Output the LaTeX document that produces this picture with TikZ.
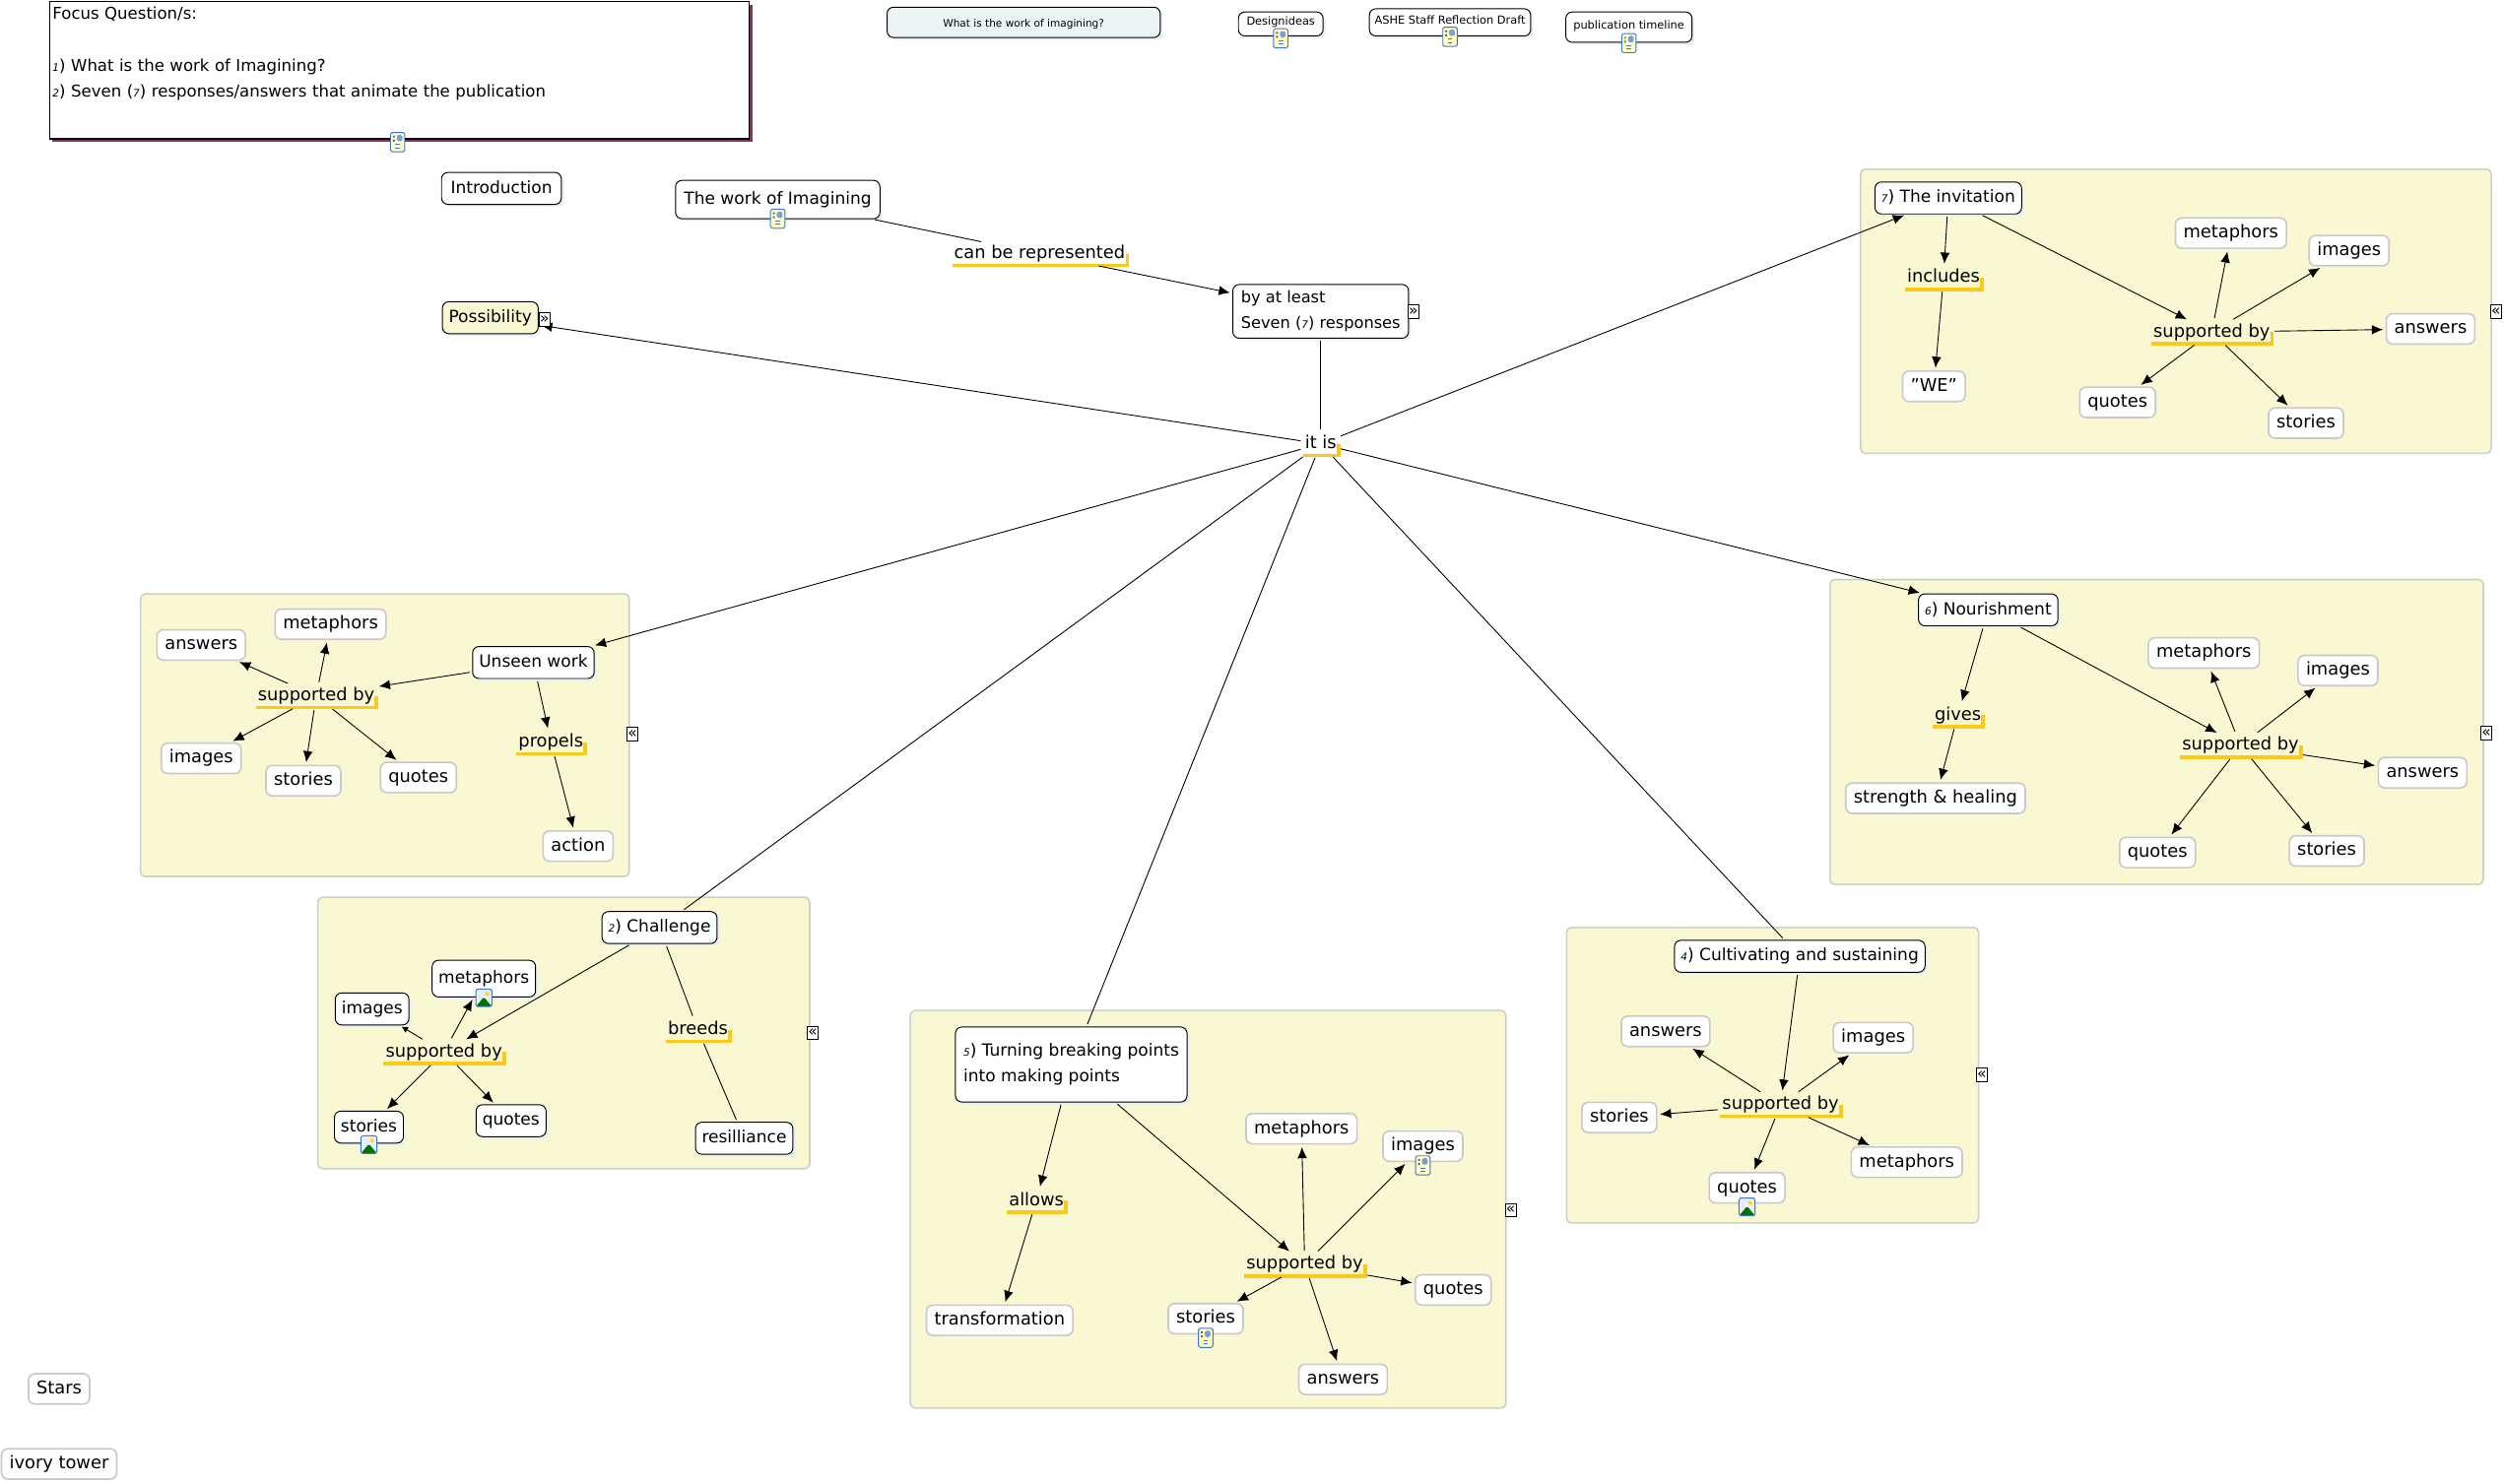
\documentclass[tikz,border=0pt]{standalone}
\usepackage{fontspec}
\setmainfont{DejaVu Sans}
\usetikzlibrary{arrows.meta,shadows}

\definecolor{panelfill}{HTML}{F9F8D3}
\definecolor{panelline}{HTML}{CFCFC8}
\definecolor{leafline}{HTML}{C9C9C9}
\definecolor{barcolor}{HTML}{FBC91A}
\definecolor{paleshadow}{HTML}{E6EFF2}
\definecolor{focusshadow}{HTML}{8C3066}
\definecolor{titlefill}{HTML}{EDF4F5}
\definecolor{iconline}{HTML}{3C78C8}

\newcommand{\numtag}[1]{{\fontsize{6.5}{7}\selectfont\itshape #1}}

\tikzset{
    panel/.style={draw=panelline, line width=1pt, fill=panelfill, rounded corners=3pt},
    concept/.style={draw=black, line width=.6pt, fill=white, rounded corners=4pt, font=\fontsize{10.5}{16}\selectfont,
        inner xsep=4pt, inner ysep=4.5pt, text height=8.5pt, text depth=2.5pt,
        drop shadow={shadow xshift=1.5pt, shadow yshift=-1.5pt, fill=paleshadow, opacity=1}},
    smallconcept/.style={concept, font=\fontsize{7}{8}\selectfont, inner xsep=1pt, inner ysep=1pt, text height=6pt, text depth=4pt},
    leaf/.style={draw=leafline, line width=1pt, fill=white, rounded corners=4pt, font=\fontsize{11}{14}\selectfont,
        inner xsep=5pt, inner ysep=4pt, text height=8.5pt, text depth=2.5pt},
    linkword/.style={inner xsep=1pt, inner ysep=1.5pt, font=\fontsize{11}{14}\selectfont, text height=8.5pt, text depth=2.5pt},
    linkbar/.style={draw=barcolor, line width=2.2pt, shorten >=0pt, shorten <=0pt, xshift=2pt, yshift=-.6pt},
    toggle/.style={draw=black, line width=.5pt, fill=white, inner sep=0pt, minimum width=7pt, minimum height=8.5pt,
        font=\fontsize{9.5}{9}\selectfont, text height=5pt, text depth=0pt},
    docicon/.style={draw=iconline, line width=.6pt, fill=yellow!22, inner sep=0pt, minimum width=9pt, minimum height=12pt,
        rounded corners=1pt, path picture={
            \draw[line width=.5pt] ([xshift=1.5pt,yshift=-7.5pt]path picture bounding box.north west) -- ++(6pt,0);
            \draw[line width=.5pt] ([xshift=1.5pt,yshift=-9.5pt]path picture bounding box.north west) -- ++(6pt,0);
            \fill[black!70] ([xshift=1.5pt,yshift=-2pt]path picture bounding box.north west) rectangle ++(1.2pt,-1.2pt);
            \fill[black!70] ([xshift=1.5pt,yshift=-4.5pt]path picture bounding box.north west) rectangle ++(1.2pt,-1.2pt);
            \fill[iconline!70] ([xshift=-1.5pt,yshift=-1.5pt]path picture bounding box.north east) rectangle ++(-3.5pt,-4pt);
        }},
    picicon/.style={draw=iconline, line width=.6pt, fill=blue!8, inner sep=0pt, minimum width=10pt, minimum height=11pt,
        rounded corners=1pt, path picture={
            \fill[green!45!black] (path picture bounding box.south west) -- ++(5pt,6pt) -- (path picture bounding box.south east) -- cycle;
            \fill[yellow!80!orange] ([xshift=-3pt,yshift=-3pt]path picture bounding box.north east) circle (1.3pt);
        }}
}

\begin{document}
\begin{tikzpicture}[x=1pt, y=-1pt, >={Latex[length=7pt,width=6pt]}, line width=.55pt, shorten >=1.5pt, shorten <=1.5pt]
    \useasboundingbox (0,0) rectangle (1568,929);

    % panels
    \draw[panel] (1165,106) rectangle (1560,284);
    \draw[panel] (1146,363) rectangle (1555,554);
    \draw[panel] (981,581) rectangle (1239,766);
    \draw[panel] (570,633) rectangle (943,882);
    \draw[panel] (199,562) rectangle (507,732);
    \draw[panel] (88,372) rectangle (394,549);

    % top row
    \node[draw=black, line width=.7pt, fill=white, minimum width=438pt, minimum height=86pt, inner xsep=2pt, inner ysep=0pt, align=left, text width=434pt,
        font=\fontsize{10.2}{16.2}\selectfont, text height=6pt,
        drop shadow={shadow xshift=2pt, shadow yshift=-2pt, fill=focusshadow, opacity=1}] (focus) at (250,44)
        {Focus Question/s:\\ \strut\\ \numtag{1}) What is the work of Imagining?\\ \numtag{2}) Seven (\numtag{7}) responses/answers that animate the publication\\ \strut};
    \node[concept, fill=titlefill, minimum width=171pt, minimum height=19pt, inner ysep=0pt, font=\fontsize{6.5}{8}\selectfont, drop shadow={opacity=0}] (title) at (641,14) {What is the work of imagining?};
    \node[smallconcept, minimum width=53pt, minimum height=15pt] (design) at (802,15) {Designideas};
    \node[smallconcept, minimum width=101pt, minimum height=17pt] (ashe) at (908,14) {ASHE Staff Reflection Draft};
    \node[smallconcept, minimum width=79pt, minimum height=19pt] (timeline) at (1020,17) {publication timeline};
    \node[concept, minimum width=75pt] (intro) at (314,118) {Introduction};
    \node[concept, minimum width=128pt, minimum height=24pt] (work) at (487,125) {The work of Imagining};
    \node[linkword] (canbe) at (651,159) {can be represented};
    \node[concept, align=left, text height=, text depth=, inner ysep=4pt, minimum width=110pt, font=\fontsize{10}{16}\selectfont] (atleast) at (827,195) {by at least\\Seven (\numtag{7}) responses};
    \node[concept, fill=panelfill] (possible) at (307,199) {Possibility};
    \node[linkword] (itis) at (827,278) {it is};

    % the invitation
    \node[concept] (invite) at (1220,124) {\numtag{7}) The invitation};
    \node[linkword] (includes) at (1217,174) {includes};
    \node[leaf] (we) at (1211,242) {"WE"};
    \node[linkword] (invsup) at (1385,208) {supported by};
    \node[leaf] (invmeta) at (1397,146) {metaphors};
    \node[leaf] (invimg) at (1471,157) {images};
    \node[leaf] (invans) at (1522,206) {answers};
    \node[leaf] (invquo) at (1326,252) {quotes};
    \node[leaf] (invsto) at (1444,265) {stories};

    % nourishment
    \node[concept] (nourish) at (1245,382) {\numtag{6}) Nourishment};
    \node[linkword] (gives) at (1226,448) {gives};
    \node[leaf] (healing) at (1212,500) {strength \& healing};
    \node[linkword] (nousup) at (1403,467) {supported by};
    \node[leaf] (noumeta) at (1380,409) {metaphors};
    \node[leaf] (nouimg) at (1464,420) {images};
    \node[leaf] (nouans) at (1517,484) {answers};
    \node[leaf] (nouquo) at (1351,534) {quotes};
    \node[leaf] (nousto) at (1457,533) {stories};

    % cultivating
    \node[concept] (cultiv) at (1127,599) {\numtag{4}) Cultivating and sustaining};
    \node[linkword] (culsup) at (1115,692) {supported by};
    \node[leaf] (culans) at (1043,646) {answers};
    \node[leaf] (culimg) at (1173,650) {images};
    \node[leaf] (culsto) at (1014,700) {stories};
    \node[leaf] (culmeta) at (1194,728) {metaphors};
    \node[leaf] (culquo) at (1094,744) {quotes};

    % turning
    \node[concept, align=left, anchor=north west, text height=, text depth=, minimum width=145pt, minimum height=47pt, inner xsep=5pt, inner ysep=0pt] (turning) at (598,643)
        {\numtag{5}) Turning breaking points\\into making points};
    \node[linkword] (allows) at (649,752) {allows};
    \node[leaf] (transform) at (626,827) {transformation};
    \node[linkword] (tursup) at (817,792) {supported by};
    \node[leaf] (turmeta) at (815,707) {metaphors};
    \node[leaf] (turimg) at (891,718) {images};
    \node[leaf] (turquo) at (910,808) {quotes};
    \node[leaf] (tursto) at (755,826) {stories};
    \node[leaf] (turans) at (841,864) {answers};

    % challenge
    \node[concept] (challenge) at (413,581) {\numtag{2}) Challenge};
    \node[concept, minimum height=23pt] (chameta) at (303,613) {metaphors};
    \node[concept] (chaimg) at (233,632) {images};
    \node[linkword] (chasup) at (278,659) {supported by};
    \node[concept] (chasto) at (231,706) {stories};
    \node[concept] (chaquo) at (320,702) {quotes};
    \node[linkword] (breeds) at (437,645) {breeds};
    \node[concept] (resil) at (466,713) {resilliance};

    % unseen work
    \node[concept] (unseen) at (334,415) {Unseen work};
    \node[leaf] (unsmeta) at (207,391) {metaphors};
    \node[leaf] (unsans) at (126,404) {answers};
    \node[linkword] (unssup) at (198,436) {supported by};
    \node[leaf] (unsimg) at (126,475) {images};
    \node[leaf] (unssto) at (190,489) {stories};
    \node[leaf] (unsquo) at (262,487) {quotes};
    \node[linkword] (propels) at (345,465) {propels};
    \node[leaf] (action) at (362,530) {action};

    % loose ones
    \node[leaf] (stars) at (37,870) {Stars};
    \node[leaf] (ivory) at (37,917) {ivory tower};

    % yellow bars
    \draw[linkbar] (canbe.south west) -| (canbe.east);
    \draw[linkbar] (itis.south west) -| (itis.east);
    \draw[linkbar] (includes.south west) -| (includes.east);
    \draw[linkbar] (invsup.south west) -| (invsup.east);
    \draw[linkbar] (gives.south west) -| (gives.east);
    \draw[linkbar] (nousup.south west) -| (nousup.east);
    \draw[linkbar] (culsup.south west) -| (culsup.east);
    \draw[linkbar] (allows.south west) -| (allows.east);
    \draw[linkbar] (tursup.south west) -| (tursup.east);
    \draw[linkbar] (chasup.south west) -| (chasup.east);
    \draw[linkbar] (breeds.south west) -| (breeds.east);
    \draw[linkbar] (unssup.south west) -| (unssup.east);
    \draw[linkbar] (propels.south west) -| (propels.east);

    % centre links
    \draw (work) -- (canbe);
    \draw[->] (canbe) -- (atleast);
    \draw (atleast) -- (itis);
    \draw[->] (itis) -- (possible);
    \draw[->] (itis) -- (invite);
    \draw[->] (itis) -- (nourish);
    \draw (itis) -- (cultiv);
    \draw (itis) -- (turning);
    \draw (itis) -- (challenge);
    \draw[->] (itis) -- (unseen);

    \draw[->] (invite) -- (includes);
    \draw[->] (includes) -- (we);
    \draw[->] (invite) -- (invsup);
    \draw[->] (invsup) -- (invmeta);
    \draw[->] (invsup) -- (invimg);
    \draw[->] (invsup) -- (invans);
    \draw[->] (invsup) -- (invquo);
    \draw[->] (invsup) -- (invsto);

    \draw[->] (nourish) -- (gives);
    \draw[->] (gives) -- (healing);
    \draw[->] (nourish) -- (nousup);
    \draw[->] (nousup) -- (noumeta);
    \draw[->] (nousup) -- (nouimg);
    \draw[->] (nousup) -- (nouans);
    \draw[->] (nousup) -- (nouquo);
    \draw[->] (nousup) -- (nousto);

    \draw[->] (cultiv) -- (culsup);
    \draw[->] (culsup) -- (culans);
    \draw[->] (culsup) -- (culimg);
    \draw[->] (culsup) -- (culsto);
    \draw[->] (culsup) -- (culmeta);
    \draw[->] (culsup) -- (culquo);

    \draw[->] (turning) -- (allows);
    \draw[->] (allows) -- (transform);
    \draw[->] (turning) -- (tursup);
    \draw[->] (tursup) -- (turmeta);
    \draw[->] (tursup) -- (turimg);
    \draw[->] (tursup) -- (turquo);
    \draw[->] (tursup) -- (tursto);
    \draw[->] (tursup) -- (turans);

    \draw[->] (challenge) -- (chasup);
    \draw[->] (chasup) -- (chameta);
    \draw[->, >={Latex[length=4pt,width=4pt]}] (chasup) -- (chaimg);
    \draw[->] (chasup) -- (chasto);
    \draw[->] (chasup) -- (chaquo);
    \draw (challenge) -- (breeds);
    \draw (breeds) -- (resil);

    \draw[->] (unseen) -- (unssup);
    \draw[->] (unssup) -- (unsmeta);
    \draw[->] (unssup) -- (unsans);
    \draw[->] (unssup) -- (unsimg);
    \draw[->] (unssup) -- (unssto);
    \draw[->] (unssup) -- (unsquo);
    \draw[->] (unseen) -- (propels);
    \draw[->] (propels) -- (action);

    % toggles
    \node[toggle] (togposs) at (341,200) {»};
    \node[toggle] (togleast) at (885,195) {»};
    \node[toggle] (toginv) at (1563,195) {«};
    \node[toggle] (tognou) at (1557,459) {«};
    \node[toggle] (togcul) at (1241,673) {«};
    \node[toggle] (togtur) at (946,758) {«};
    \node[toggle] (togcha) at (509,647) {«};
    \node[toggle] (toguns) at (396,460) {«};

    % icons
    \node[docicon] (icfocus) at (249,89) {};
    \node[docicon] (icwork) at (487,137) {};
    \node[docicon] (icdesign) at (802,24) {};
    \node[docicon] (icashe) at (908,23) {};
    \node[docicon] (ictime) at (1020,27) {};
    \node[docicon] (icturimg) at (891,730) {};
    \node[docicon] (ictursto) at (755,838) {};
    \node[picicon] (icchameta) at (303,625) {};
    \node[picicon] (icchasto) at (231,717) {};
    \node[picicon] (icculquo) at (1094,756) {};
\end{tikzpicture}
\end{document}
